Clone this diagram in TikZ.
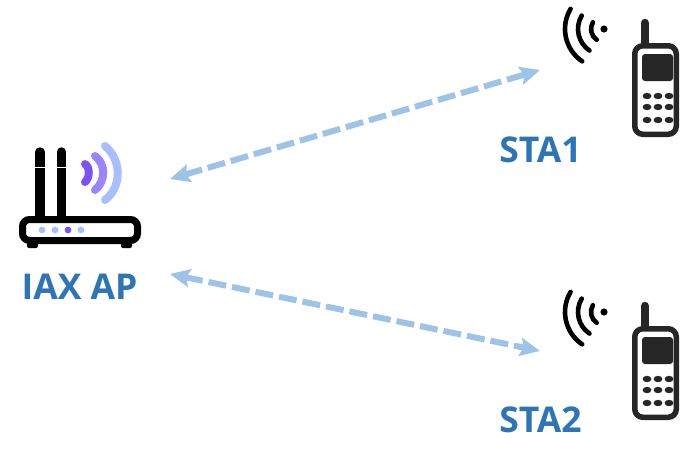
\documentclass[tikz,border=0pt]{standalone}
\usepackage{fontspec}
\setmainfont{Open Sans}
\usetikzlibrary{positioning,arrows.meta}
\definecolor{labelBlue}{HTML}{2E75B6}
\definecolor{linkBlue}{HTML}{9DC3E6}
\definecolor{phoneDark}{HTML}{262626}
\definecolor{waveDark}{HTML}{7C52F5}
\definecolor{waveMid}{HTML}{9A85FB}
\definecolor{waveLight}{HTML}{A8BEFF}

\begin{document}
\begin{tikzpicture}[
    x=1pt, y=-1pt,
    devlabel/.style={font=\bfseries\fontsize{35.5}{40}\selectfont, text=labelBlue, inner sep=0pt},
    link/.style={{Stealth[length=20pt,width=18pt,inset=3.5pt]}-{Stealth[length=20pt,width=18pt,inset=3.5pt]},
        draw=linkBlue, line width=6pt, dash pattern=on 18pt off 6pt},
    radiowave/.style={line width=4.6pt, line cap=round, draw=black},
    apwave/.style={line width=8pt, line cap=round},
    station/.pic={
        % Antenna and body
        \draw[line width=8.5pt, line cap=round, draw=phoneDark] (13,4) -- (13,26);
        \draw[line width=5.5pt, draw=phoneDark, fill=white, rounded corners=8pt] (2.75,26.75) rectangle (44.25,115.25);
        \fill[phoneDark, rounded corners=3pt] (10,35) rectangle (41,62);
        % Keypad
        \foreach \ky in {77,88,101} {
            \foreach \kx in {15,26,37} {
                \fill[phoneDark] (\kx,\ky) ellipse [x radius=4.4, y radius=3.2];
            }
        }
        % Signal waves
        \fill[black] (-28,10) circle (3.6);
        \foreach \wr in {13,26,39} {
            \draw[radiowave] (-28,10) ++(124:\wr) arc[start angle=124, end angle=211, radius=\wr];
        }
    }
]
  \useasboundingbox (0,0) rectangle (687,461);
  \fill[white] (0,0) rectangle (687,461);

  % Router antennas
  \draw[line width=9.5pt, line cap=round] (40,152) -- (40,218);
  \draw[line width=9.5pt, line cap=round] (61.5,152) -- (61.5,218);
  \draw[white, line width=1pt] (30,167.5) -- (72,167.5);

  % Router body and feet
  \fill[rounded corners=2pt] (27,240) rectangle (38,248);
  \fill[rounded corners=2pt] (121,240) rectangle (132,248);
  \draw[line width=7pt, fill=white, rounded corners=7pt] (22.5,219.5) rectangle (137.5,240.5);
  \foreach \dx in {42,55,81} {
      \fill[waveLight] (\dx,230) circle (3.4);
  }
  \fill[waveDark] (68,230) circle (3.4);

  % Router waves
  \draw[apwave, draw=waveDark] (85,164) .. controls (90,167) and (90,178) .. (85,182);
  \draw[apwave, draw=waveMid] (95,156) .. controls (106,164) and (106,181) .. (95,190);
  \draw[apwave, draw=waveLight] (105,146) .. controls (122,160) and (122,187) .. (105,200);

  % Labels
  \node[devlabel] (ap_label) at (79.5,287) {IAX AP};
  \node[devlabel] (sta1_label) at (540.5,150) {STA1};
  \node[devlabel] (sta2_label) at (540.5,420) {STA2};

  % Stations
  \pic (sta1) at (632,19) {station};
  \pic (sta2) at (632,302) {station};

  % Link ends
  \coordinate (ap_up) at (170,179);
  \coordinate (sta1_in) at (540,70);
  \coordinate (ap_down) at (170,274);
  \coordinate (sta2_in) at (540,351);

  \draw[link] (ap_up) -- (sta1_in);
  \draw[link] (ap_down) -- (sta2_in);
\end{tikzpicture}
\end{document}
